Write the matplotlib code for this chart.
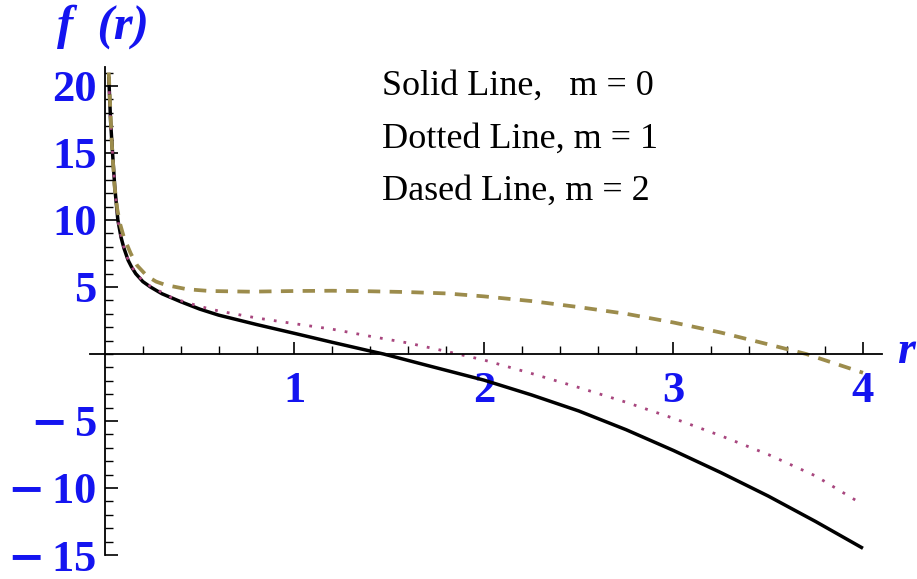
import matplotlib
matplotlib.use("Agg")
import matplotlib.pyplot as plt
import numpy as np

# values
r_solid = [0.02, 0.03, 0.04, 0.052, 0.068, 0.085, 0.1, 0.122, 0.14, 0.162, 0.2, 0.24, 0.3, 0.4, 0.5, 0.6, 0.8, 1.0, 1.2, 1.4, 1.47, 1.7, 2.0, 2.25, 2.5, 2.75, 3.0, 3.25, 3.5, 3.75, 4.0]
f_solid = [20.7, 17.3, 15.0, 12.4, 10.0, 8.7, 7.9, 7.0, 6.5, 6.0, 5.4, 5.0, 4.5, 3.9, 3.35, 2.9, 2.2, 1.54, 0.87, 0.22, 0.0, -0.85, -1.95, -3.05, -4.25, -5.65, -7.2, -8.85, -10.6, -12.5, -14.5]

r_dot = [0.02, 0.03, 0.04, 0.052, 0.068, 0.085, 0.1, 0.122, 0.14, 0.162, 0.2, 0.24, 0.3, 0.36, 0.43, 0.5, 0.6, 0.8, 1.0, 1.2, 1.4, 1.6, 1.8, 2.0, 2.25, 2.5, 2.75, 3.0, 3.25, 3.5, 3.75, 3.96]
f_dot = [20.5, 17.2, 15.0, 12.4, 10.0, 8.75, 7.95, 7.05, 6.55, 6.05, 5.45, 5.05, 4.6, 4.15, 3.85, 3.55, 3.21, 2.69, 2.26, 1.85, 1.32, 0.82, 0.2, -0.45, -1.45, -2.5, -3.6, -4.8, -6.1, -7.5, -9.1, -10.9]

r_dash = [0.02, 0.035, 0.05, 0.065, 0.08, 0.1, 0.136, 0.17, 0.223, 0.27, 0.32, 0.434, 0.554, 0.765, 1.0, 1.2, 1.4, 1.6, 1.8, 2.0, 2.25, 2.5, 2.75, 3.0, 3.25, 3.5, 3.7, 4.0]
f_dash = [21.0, 16.0, 12.6, 10.8, 9.7, 8.7, 7.5, 6.6, 5.8, 5.4, 5.15, 4.83, 4.7, 4.65, 4.7, 4.72, 4.68, 4.62, 4.52, 4.3, 3.95, 3.5, 3.0, 2.35, 1.6, 0.72, 0.0, -1.4]

x_major = [1, 2, 3, 4]
x_labels = ["1", "2", "3", "4"]
y_major = [-15, -10, -5, 5, 10, 15, 20]
y_labels = [r"$\mathbf{-}\,$15", r"$\mathbf{-}\,$10", r"$\mathbf{-}\,$5", "5", "10", "15", "20"]

legend_lines = ["Solid Line,   m = 0", "Dotted Line, m = 1", "Dased Line, m = 2"]

BLUE = "#1414f0"
SERIF = ["Liberation Serif", "DejaVu Serif"]
plt.rcParams["mathtext.fontset"] = "dejavuserif"

fig = plt.figure(figsize=(9.17, 5.79), dpi=100)
ax = fig.add_axes([0.0938, 0.0183, 0.8886, 0.8795])
ax.set_xlim(-0.1, 4.2)
ax.set_ylim(-16, 22)

ax.plot(r_solid, f_solid, color="black", lw=2.5, solid_capstyle="butt", solid_joinstyle="round")
ax.plot(r_dot, f_dot, color="#a8467e", lw=2.0, linestyle=(0, (1, 3.3)))
ax.plot(r_dash, f_dash, color="#9c8c4c", lw=2.7, linestyle=(0, (3.3, 2.5)))

for s in ["top", "right"]:
    ax.spines[s].set_visible(False)
ax.spines["left"].set_position(("data", 0))
ax.spines["bottom"].set_position(("data", 0))
ax.spines["bottom"].set_bounds(-0.08, 4.1)
ax.spines["left"].set_bounds(-15, 21.4)
ax.spines["left"].set_linewidth(1.3)
ax.spines["bottom"].set_linewidth(1.3)

ax.set_xticks(x_major)
ax.set_xticklabels(x_labels)
ax.set_xticks(np.arange(0.2, 4.05, 0.2), minor=True)
ax.set_yticks(y_major)
ax.set_yticklabels(y_labels)
ax.set_yticks(np.arange(-15, 22, 1), minor=True)

ax.tick_params(which="major", direction="in", length=9, width=1.2)
ax.tick_params(which="minor", direction="in", length=5.5, width=1.0)
ax.tick_params(axis="x", which="major", pad=12)
ax.tick_params(axis="y", which="major", pad=6)

for lab in ax.get_xticklabels() + ax.get_yticklabels():
    lab.set_fontfamily(SERIF)
    lab.set_fontweight("bold")
    lab.set_fontsize(32)
    lab.set_color(BLUE)

ax.set_facecolor("none")

# axis titles
fig.text(57 / 917, 1 - 27 / 579, "f  (r)", fontsize=35, family=SERIF, style="italic",
         weight="bold", color=BLUE, ha="left", va="center")
fig.text(897 / 917, 1 - 352 / 579, "r", fontsize=33, family=SERIF, style="italic",
         weight="bold", color=BLUE, ha="left", va="center")

# legend text
base_y = [19.33, 15.37, 11.49]
for txt, yy in zip(legend_lines, base_y):
    ax.text(1.462, yy, txt, fontsize=26, family=SERIF, color="black",
            ha="left", va="baseline")

fig.savefig("out.png", dpi=100)
